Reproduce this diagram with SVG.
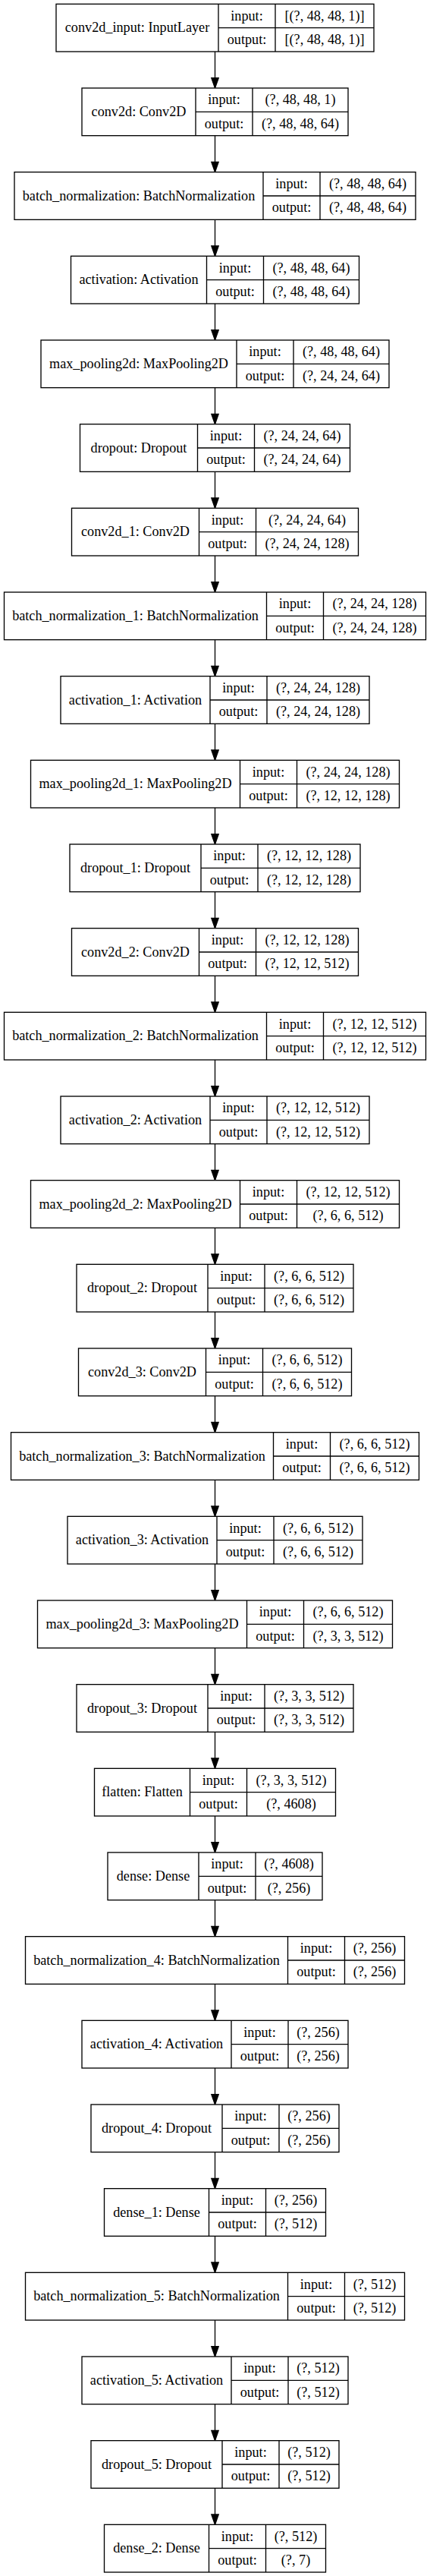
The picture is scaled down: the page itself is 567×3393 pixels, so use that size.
<svg xmlns="http://www.w3.org/2000/svg" width="567" height="3393" viewBox="0 0 567 3393">
<style>
.nd rect{fill:#fff;stroke:#000;stroke-width:1.33}
.nd path{fill:none;stroke:#000;stroke-width:1.33}
.nd text{font-family:"Liberation Serif","Times New Roman",serif;font-size:18.2px;text-anchor:middle;fill:#000}
.ed line{stroke:#000;stroke-width:1.33;marker-end:url(#ah)}
</style>
<defs>
<marker id="ah" markerUnits="userSpaceOnUse" markerWidth="16" markerHeight="12" refX="13.33" refY="4.67" orient="auto" viewBox="-1 -1 16 12">
<path d="M0,0 L13.33,4.67 L0,9.33 Z" fill="#000" stroke="#000" stroke-width="1.33"/>
</marker>
</defs>
<rect width="567" height="3393" fill="#fff"/>
<g id="edges" class="ed">
<line x1="283.5" y1="68" x2="283.5" y2="116"/>
<line x1="283.5" y1="178.67" x2="283.5" y2="226.67"/>
<line x1="283.5" y1="289.33" x2="283.5" y2="337.33"/>
<line x1="283.5" y1="400" x2="283.5" y2="448"/>
<line x1="283.5" y1="510.67" x2="283.5" y2="558.67"/>
<line x1="283.5" y1="621.33" x2="283.5" y2="669.33"/>
<line x1="283.5" y1="732" x2="283.5" y2="780"/>
<line x1="283.5" y1="842.67" x2="283.5" y2="890.67"/>
<line x1="283.5" y1="953.33" x2="283.5" y2="1001.33"/>
<line x1="283.5" y1="1064" x2="283.5" y2="1112"/>
<line x1="283.5" y1="1174.67" x2="283.5" y2="1222.67"/>
<line x1="283.5" y1="1285.33" x2="283.5" y2="1333.33"/>
<line x1="283.5" y1="1396" x2="283.5" y2="1444"/>
<line x1="283.5" y1="1506.67" x2="283.5" y2="1554.67"/>
<line x1="283.5" y1="1617.33" x2="283.5" y2="1665.33"/>
<line x1="283.5" y1="1728" x2="283.5" y2="1776"/>
<line x1="283.5" y1="1838.67" x2="283.5" y2="1886.67"/>
<line x1="283.5" y1="1949.33" x2="283.5" y2="1997.33"/>
<line x1="283.5" y1="2060" x2="283.5" y2="2108"/>
<line x1="283.5" y1="2170.67" x2="283.5" y2="2218.67"/>
<line x1="283.5" y1="2281.33" x2="283.5" y2="2329.33"/>
<line x1="283.5" y1="2392" x2="283.5" y2="2440"/>
<line x1="283.5" y1="2502.67" x2="283.5" y2="2550.67"/>
<line x1="283.5" y1="2613.33" x2="283.5" y2="2661.33"/>
<line x1="283.5" y1="2724" x2="283.5" y2="2772"/>
<line x1="283.5" y1="2834.67" x2="283.5" y2="2882.67"/>
<line x1="283.5" y1="2945.33" x2="283.5" y2="2993.33"/>
<line x1="283.5" y1="3056" x2="283.5" y2="3104"/>
<line x1="283.5" y1="3166.67" x2="283.5" y2="3214.67"/>
<line x1="283.5" y1="3277.33" x2="283.5" y2="3325.33"/>
</g>

<g id="conv2d_input" class="nd" transform="translate(74,5.33)">
<rect width="419" height="62.67"/><path d="M214 0V62.67M289 0V62.67M214 31.33H419"/>
<text x="107" y="36.93">conv2d_input: InputLayer</text>
<text x="251.5" y="21.27">input:</text><text x="251.5" y="52.6">output:</text>
<text x="354" y="21.27">[(?, 48, 48, 1)]</text><text x="354" y="52.6">[(?, 48, 48, 1)]</text>
</g>

<g id="conv2d" class="nd" transform="translate(108,116)">
<rect width="351" height="62.67"/><path d="M150 0V62.67M225 0V62.67M150 31.33H351"/>
<text x="75" y="36.93">conv2d: Conv2D</text>
<text x="187.5" y="21.27">input:</text><text x="187.5" y="52.6">output:</text>
<text x="288" y="21.27">(?, 48, 48, 1)</text><text x="288" y="52.6">(?, 48, 48, 64)</text>
</g>

<g id="batch_normalization" class="nd" transform="translate(19,226.67)">
<rect width="529" height="62.67"/><path d="M328 0V62.67M403 0V62.67M328 31.33H529"/>
<text x="164" y="36.93">batch_normalization: BatchNormalization</text>
<text x="365.5" y="21.27">input:</text><text x="365.5" y="52.6">output:</text>
<text x="466" y="21.27">(?, 48, 48, 64)</text><text x="466" y="52.6">(?, 48, 48, 64)</text>
</g>

<g id="activation" class="nd" transform="translate(93.5,337.33)">
<rect width="380" height="62.67"/><path d="M179 0V62.67M254 0V62.67M179 31.33H380"/>
<text x="89.5" y="36.93">activation: Activation</text>
<text x="216.5" y="21.27">input:</text><text x="216.5" y="52.6">output:</text>
<text x="317" y="21.27">(?, 48, 48, 64)</text><text x="317" y="52.6">(?, 48, 48, 64)</text>
</g>

<g id="max_pooling2d" class="nd" transform="translate(54,448)">
<rect width="459" height="62.67"/><path d="M258 0V62.67M333 0V62.67M258 31.33H459"/>
<text x="129" y="36.93">max_pooling2d: MaxPooling2D</text>
<text x="295.5" y="21.27">input:</text><text x="295.5" y="52.6">output:</text>
<text x="396" y="21.27">(?, 48, 48, 64)</text><text x="396" y="52.6">(?, 24, 24, 64)</text>
</g>

<g id="dropout" class="nd" transform="translate(105.5,558.67)">
<rect width="356" height="62.67"/><path d="M155 0V62.67M230 0V62.67M155 31.33H356"/>
<text x="77.5" y="36.93">dropout: Dropout</text>
<text x="192.5" y="21.27">input:</text><text x="192.5" y="52.6">output:</text>
<text x="293" y="21.27">(?, 24, 24, 64)</text><text x="293" y="52.6">(?, 24, 24, 64)</text>
</g>

<g id="conv2d_1" class="nd" transform="translate(94.5,669.33)">
<rect width="378" height="62.67"/><path d="M168 0V62.67M243 0V62.67M168 31.33H378"/>
<text x="84" y="36.93">conv2d_1: Conv2D</text>
<text x="205.5" y="21.27">input:</text><text x="205.5" y="52.6">output:</text>
<text x="310.5" y="21.27">(?, 24, 24, 64)</text><text x="310.5" y="52.6">(?, 24, 24, 128)</text>
</g>

<g id="batch_normalization_1" class="nd" transform="translate(5.5,780)">
<rect width="556" height="62.67"/><path d="M346 0V62.67M421 0V62.67M346 31.33H556"/>
<text x="173" y="36.93">batch_normalization_1: BatchNormalization</text>
<text x="383.5" y="21.27">input:</text><text x="383.5" y="52.6">output:</text>
<text x="488.5" y="21.27">(?, 24, 24, 128)</text><text x="488.5" y="52.6">(?, 24, 24, 128)</text>
</g>

<g id="activation_1" class="nd" transform="translate(80,890.67)">
<rect width="407" height="62.67"/><path d="M197 0V62.67M272 0V62.67M197 31.33H407"/>
<text x="98.5" y="36.93">activation_1: Activation</text>
<text x="234.5" y="21.27">input:</text><text x="234.5" y="52.6">output:</text>
<text x="339.5" y="21.27">(?, 24, 24, 128)</text><text x="339.5" y="52.6">(?, 24, 24, 128)</text>
</g>

<g id="max_pooling2d_1" class="nd" transform="translate(40.5,1001.33)">
<rect width="486" height="62.67"/><path d="M276 0V62.67M351 0V62.67M276 31.33H486"/>
<text x="138" y="36.93">max_pooling2d_1: MaxPooling2D</text>
<text x="313.5" y="21.27">input:</text><text x="313.5" y="52.6">output:</text>
<text x="418.5" y="21.27">(?, 24, 24, 128)</text><text x="418.5" y="52.6">(?, 12, 12, 128)</text>
</g>

<g id="dropout_1" class="nd" transform="translate(92,1112)">
<rect width="383" height="62.67"/><path d="M173 0V62.67M248 0V62.67M173 31.33H383"/>
<text x="86.5" y="36.93">dropout_1: Dropout</text>
<text x="210.5" y="21.27">input:</text><text x="210.5" y="52.6">output:</text>
<text x="315.5" y="21.27">(?, 12, 12, 128)</text><text x="315.5" y="52.6">(?, 12, 12, 128)</text>
</g>

<g id="conv2d_2" class="nd" transform="translate(94.5,1222.67)">
<rect width="378" height="62.67"/><path d="M168 0V62.67M243 0V62.67M168 31.33H378"/>
<text x="84" y="36.93">conv2d_2: Conv2D</text>
<text x="205.5" y="21.27">input:</text><text x="205.5" y="52.6">output:</text>
<text x="310.5" y="21.27">(?, 12, 12, 128)</text><text x="310.5" y="52.6">(?, 12, 12, 512)</text>
</g>

<g id="batch_normalization_2" class="nd" transform="translate(5.5,1333.33)">
<rect width="556" height="62.67"/><path d="M346 0V62.67M421 0V62.67M346 31.33H556"/>
<text x="173" y="36.93">batch_normalization_2: BatchNormalization</text>
<text x="383.5" y="21.27">input:</text><text x="383.5" y="52.6">output:</text>
<text x="488.5" y="21.27">(?, 12, 12, 512)</text><text x="488.5" y="52.6">(?, 12, 12, 512)</text>
</g>

<g id="activation_2" class="nd" transform="translate(80,1444)">
<rect width="407" height="62.67"/><path d="M197 0V62.67M272 0V62.67M197 31.33H407"/>
<text x="98.5" y="36.93">activation_2: Activation</text>
<text x="234.5" y="21.27">input:</text><text x="234.5" y="52.6">output:</text>
<text x="339.5" y="21.27">(?, 12, 12, 512)</text><text x="339.5" y="52.6">(?, 12, 12, 512)</text>
</g>

<g id="max_pooling2d_2" class="nd" transform="translate(40.5,1554.67)">
<rect width="486" height="62.67"/><path d="M276 0V62.67M351 0V62.67M276 31.33H486"/>
<text x="138" y="36.93">max_pooling2d_2: MaxPooling2D</text>
<text x="313.5" y="21.27">input:</text><text x="313.5" y="52.6">output:</text>
<text x="418.5" y="21.27">(?, 12, 12, 512)</text><text x="418.5" y="52.6">(?, 6, 6, 512)</text>
</g>

<g id="dropout_2" class="nd" transform="translate(101,1665.33)">
<rect width="365" height="62.67"/><path d="M173 0V62.67M248 0V62.67M173 31.33H365"/>
<text x="86.5" y="36.93">dropout_2: Dropout</text>
<text x="210.5" y="21.27">input:</text><text x="210.5" y="52.6">output:</text>
<text x="306.5" y="21.27">(?, 6, 6, 512)</text><text x="306.5" y="52.6">(?, 6, 6, 512)</text>
</g>

<g id="conv2d_3" class="nd" transform="translate(103.5,1776)">
<rect width="360" height="62.67"/><path d="M168 0V62.67M243 0V62.67M168 31.33H360"/>
<text x="84" y="36.93">conv2d_3: Conv2D</text>
<text x="205.5" y="21.27">input:</text><text x="205.5" y="52.6">output:</text>
<text x="301.5" y="21.27">(?, 6, 6, 512)</text><text x="301.5" y="52.6">(?, 6, 6, 512)</text>
</g>

<g id="batch_normalization_3" class="nd" transform="translate(14.5,1886.67)">
<rect width="538" height="62.67"/><path d="M346 0V62.67M421 0V62.67M346 31.33H538"/>
<text x="173" y="36.93">batch_normalization_3: BatchNormalization</text>
<text x="383.5" y="21.27">input:</text><text x="383.5" y="52.6">output:</text>
<text x="479.5" y="21.27">(?, 6, 6, 512)</text><text x="479.5" y="52.6">(?, 6, 6, 512)</text>
</g>

<g id="activation_3" class="nd" transform="translate(89,1997.33)">
<rect width="389" height="62.67"/><path d="M197 0V62.67M272 0V62.67M197 31.33H389"/>
<text x="98.5" y="36.93">activation_3: Activation</text>
<text x="234.5" y="21.27">input:</text><text x="234.5" y="52.6">output:</text>
<text x="330.5" y="21.27">(?, 6, 6, 512)</text><text x="330.5" y="52.6">(?, 6, 6, 512)</text>
</g>

<g id="max_pooling2d_3" class="nd" transform="translate(49.5,2108)">
<rect width="468" height="62.67"/><path d="M276 0V62.67M351 0V62.67M276 31.33H468"/>
<text x="138" y="36.93">max_pooling2d_3: MaxPooling2D</text>
<text x="313.5" y="21.27">input:</text><text x="313.5" y="52.6">output:</text>
<text x="409.5" y="21.27">(?, 6, 6, 512)</text><text x="409.5" y="52.6">(?, 3, 3, 512)</text>
</g>

<g id="dropout_3" class="nd" transform="translate(101,2218.67)">
<rect width="365" height="62.67"/><path d="M173 0V62.67M248 0V62.67M173 31.33H365"/>
<text x="86.5" y="36.93">dropout_3: Dropout</text>
<text x="210.5" y="21.27">input:</text><text x="210.5" y="52.6">output:</text>
<text x="306.5" y="21.27">(?, 3, 3, 512)</text><text x="306.5" y="52.6">(?, 3, 3, 512)</text>
</g>

<g id="flatten" class="nd" transform="translate(124.5,2329.33)">
<rect width="318" height="62.67"/><path d="M126 0V62.67M201 0V62.67M126 31.33H318"/>
<text x="63" y="36.93">flatten: Flatten</text>
<text x="163.5" y="21.27">input:</text><text x="163.5" y="52.6">output:</text>
<text x="259.5" y="21.27">(?, 3, 3, 512)</text><text x="259.5" y="52.6">(?, 4608)</text>
</g>

<g id="dense" class="nd" transform="translate(142,2440)">
<rect width="283" height="62.67"/><path d="M120 0V62.67M195 0V62.67M120 31.33H283"/>
<text x="60" y="36.93">dense: Dense</text>
<text x="157.5" y="21.27">input:</text><text x="157.5" y="52.6">output:</text>
<text x="239" y="21.27">(?, 4608)</text><text x="239" y="52.6">(?, 256)</text>
</g>

<g id="batch_normalization_4" class="nd" transform="translate(33.5,2550.67)">
<rect width="500" height="62.67"/><path d="M346 0V62.67M421 0V62.67M346 31.33H500"/>
<text x="173" y="36.93">batch_normalization_4: BatchNormalization</text>
<text x="383.5" y="21.27">input:</text><text x="383.5" y="52.6">output:</text>
<text x="460.5" y="21.27">(?, 256)</text><text x="460.5" y="52.6">(?, 256)</text>
</g>

<g id="activation_4" class="nd" transform="translate(108,2661.33)">
<rect width="351" height="62.67"/><path d="M197 0V62.67M272 0V62.67M197 31.33H351"/>
<text x="98.5" y="36.93">activation_4: Activation</text>
<text x="234.5" y="21.27">input:</text><text x="234.5" y="52.6">output:</text>
<text x="311.5" y="21.27">(?, 256)</text><text x="311.5" y="52.6">(?, 256)</text>
</g>

<g id="dropout_4" class="nd" transform="translate(120,2772)">
<rect width="327" height="62.67"/><path d="M173 0V62.67M248 0V62.67M173 31.33H327"/>
<text x="86.5" y="36.93">dropout_4: Dropout</text>
<text x="210.5" y="21.27">input:</text><text x="210.5" y="52.6">output:</text>
<text x="287.5" y="21.27">(?, 256)</text><text x="287.5" y="52.6">(?, 256)</text>
</g>

<g id="dense_1" class="nd" transform="translate(137.5,2882.67)">
<rect width="292" height="62.67"/><path d="M138 0V62.67M213 0V62.67M138 31.33H292"/>
<text x="69" y="36.93">dense_1: Dense</text>
<text x="175.5" y="21.27">input:</text><text x="175.5" y="52.6">output:</text>
<text x="252.5" y="21.27">(?, 256)</text><text x="252.5" y="52.6">(?, 512)</text>
</g>

<g id="batch_normalization_5" class="nd" transform="translate(33.5,2993.33)">
<rect width="500" height="62.67"/><path d="M346 0V62.67M421 0V62.67M346 31.33H500"/>
<text x="173" y="36.93">batch_normalization_5: BatchNormalization</text>
<text x="383.5" y="21.27">input:</text><text x="383.5" y="52.6">output:</text>
<text x="460.5" y="21.27">(?, 512)</text><text x="460.5" y="52.6">(?, 512)</text>
</g>

<g id="activation_5" class="nd" transform="translate(108,3104)">
<rect width="351" height="62.67"/><path d="M197 0V62.67M272 0V62.67M197 31.33H351"/>
<text x="98.5" y="36.93">activation_5: Activation</text>
<text x="234.5" y="21.27">input:</text><text x="234.5" y="52.6">output:</text>
<text x="311.5" y="21.27">(?, 512)</text><text x="311.5" y="52.6">(?, 512)</text>
</g>

<g id="dropout_5" class="nd" transform="translate(120,3214.67)">
<rect width="327" height="62.67"/><path d="M173 0V62.67M248 0V62.67M173 31.33H327"/>
<text x="86.5" y="36.93">dropout_5: Dropout</text>
<text x="210.5" y="21.27">input:</text><text x="210.5" y="52.6">output:</text>
<text x="287.5" y="21.27">(?, 512)</text><text x="287.5" y="52.6">(?, 512)</text>
</g>

<g id="dense_2" class="nd" transform="translate(137.5,3325.33)">
<rect width="292" height="62.67"/><path d="M138 0V62.67M213 0V62.67M138 31.33H292"/>
<text x="69" y="36.93">dense_2: Dense</text>
<text x="175.5" y="21.27">input:</text><text x="175.5" y="52.6">output:</text>
<text x="252.5" y="21.27">(?, 512)</text><text x="252.5" y="52.6">(?, 7)</text>
</g>
</svg>
